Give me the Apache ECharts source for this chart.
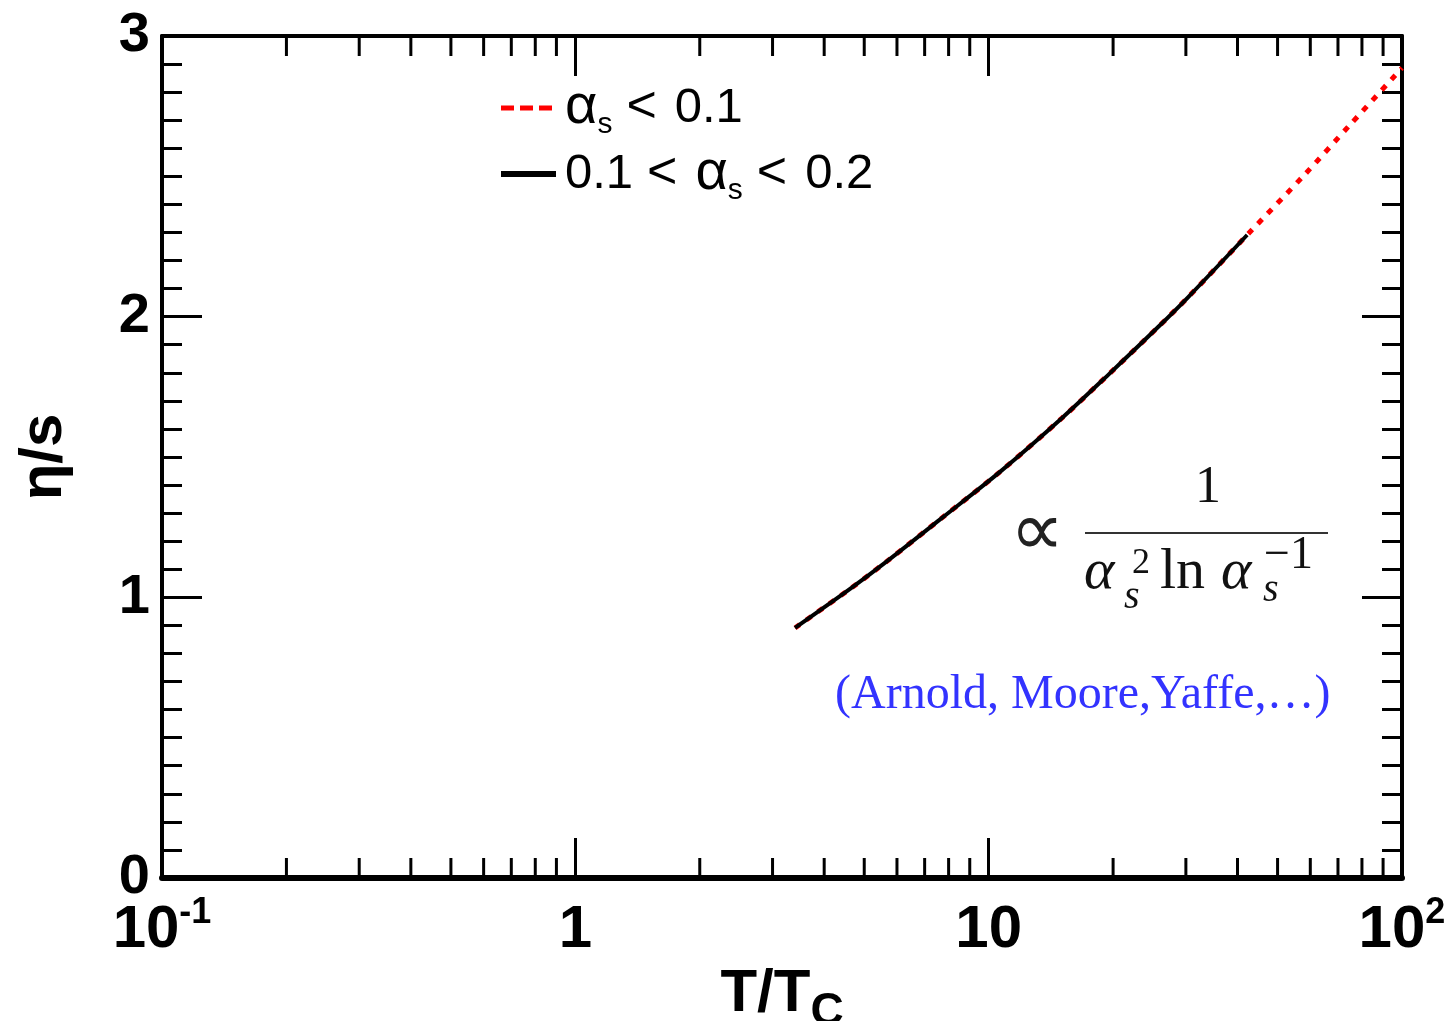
<!DOCTYPE html>
<html><head><meta charset="utf-8">
<script src="https://cdn.jsdelivr.net/npm/echarts@6/dist/echarts.min.js"></script>
<style>html,body{margin:0;padding:0;background:#fff}#c{width:1449px;height:1021px}</style>
</head><body><div id="c"></div>
<script>
// ---- data ----
const tOverTc   = [3.40, 4.62, 5.68, 7.71, 10.65, 15.05, 19.66, 25.7, 30.4, 42.2, 58.3, 74.8, 100];
const etaOverS  = [0.891, 1.030, 1.129, 1.283, 1.447, 1.639, 1.799, 1.963, 2.070, 2.291, 2.508, 2.683, 2.886];
const blackMaxT = 42.2;           // 0.1 < alpha_s < 0.2 segment ends here
const seriesNames = ['alpha_s < 0.1', '0.1 < alpha_s < 0.2'];
const xTickBase = ['10', '1', '10', '10'];
const xTickExp  = ['-1', '', '', '2'];
const xMinorTicks = [0.2,0.3,0.4,0.5,0.6,0.7,0.8,0.9, 2,3,4,5,6,7,8,9, 20,30,40,50,60,70,80,90];
const yTickLabels = ['0', '1', '2', '3'];

const redData = tOverTc.map((t, i) => [t, etaOverS[i]]);
const blackData = redData.filter(p => p[0] <= blackMaxT);

const SANS = "'Liberation Sans', Arial, Helvetica, sans-serif";
const SERIF = "'Liberation Serif', 'Times New Roman', serif";

const chart = echarts.init(document.getElementById('c'), null, {renderer: 'canvas'});

const commonX = {
  type: 'log', logBase: 10, min: 0.1, max: 100,
  splitLine: {show: false}, minorSplitLine: {show: false},
  axisTick: {show: true, inside: true, length: 40, lineStyle: {color: '#000', width: 3}},
};
const commonY = {
  type: 'value', min: 0, max: 3, interval: 1,
  splitLine: {show: false}, minorSplitLine: {show: false},
  axisTick: {show: true, inside: true, length: 40, lineStyle: {color: '#000', width: 3}},
  minorTick: {show: true, splitNumber: 10, length: 20, lineStyle: {color: '#000', width: 3}},
};

const option = {
  backgroundColor: '#fff',
  animation: false,
  grid: {left: 162, right: 47, top: 36, bottom: 143, containLabel: false, outerBoundsMode: 'none'},
  xAxis: [
    Object.assign({}, commonX, {
      position: 'bottom',
      axisLine: {show: true, onZero: false, lineStyle: {color: '#000', width: 6}},
      axisLabel: {
        show: true, margin: 17, showMinLabel: true, showMaxLabel: true,
        formatter: v => {
          const k = Math.round(Math.log10(v)) + 1;
          const e = xTickExp[k];
          return '{a|' + xTickBase[k] + '}' + (e ? '{s|' + e + '}' : '');
        },
        rich: {
          a: {fontFamily: SANS, fontWeight: 'bold', fontSize: 60, lineHeight: 70, color: '#000'},
          s: {fontFamily: SANS, fontWeight: 'bold', fontSize: 36, lineHeight: 36, verticalAlign: 'top', color: '#000'}
        }
      },
      name: '{a|T/T}{c|C}',
      nameLocation: 'middle', nameGap: 50,
      nameTextStyle: {
        rich: {
          a: {fontFamily: SANS, fontWeight: 'bold', fontSize: 60, lineHeight: 80, color: '#000'},
          c: {fontFamily: SANS, fontWeight: 'bold', fontSize: 46, lineHeight: 38, verticalAlign: 'bottom', color: '#000'}
        }
      }
    }),
    Object.assign({}, commonX, {
      position: 'top',
      axisLine: {show: true, onZero: false, lineStyle: {color: '#000', width: 4}},
      axisLabel: {show: false}
    })
  ],
  yAxis: [
    Object.assign({}, commonY, {
      position: 'left',
      axisLine: {show: true, onZero: false, lineStyle: {color: '#000', width: 4}},
      axisLabel: {
        show: true, margin: 12, color: '#000', fontFamily: SANS, fontWeight: 'bold', fontSize: 56,
        formatter: v => yTickLabels[Math.round(v)]
      },
      name: 'η/s', nameLocation: 'middle', nameGap: 88, nameRotate: 90,
      nameTextStyle: {fontFamily: SANS, fontWeight: 'bold', fontSize: 60, color: '#000'}
    }),
    Object.assign({}, commonY, {
      position: 'right',
      axisLine: {show: true, onZero: false, lineStyle: {color: '#000', width: 4}},
      axisLabel: {show: false}
    })
  ],
  legend: {
    show: true, orient: 'vertical', left: 498, top: 80, padding: 0,
    itemWidth: 55, itemHeight: 14, itemGap: 6,
    itemStyle: {opacity: 0},
    formatter: n => n === seriesNames[0]
      ? '{g|α}{s|s}{lt|<}{m|0.1}'
      : '{m0|0.1}{lt|<}{g2|α}{s|s}{lt|<}{m|0.2}',
    textStyle: {
      rich: {
        m:  {fontFamily: SANS, fontSize: 49, lineHeight: 64, color: '#000'},
        m0: {fontFamily: SANS, fontSize: 49, lineHeight: 64, color: '#000', padding: [0, 0, 0, 4]},
        g:  {fontFamily: SANS, fontSize: 56, lineHeight: 64, color: '#000', padding: [0, 0, 0, 4]},
        g2: {fontFamily: SANS, fontSize: 56, lineHeight: 64, color: '#000'},
        lt: {fontFamily: SANS, fontSize: 52, lineHeight: 64, color: '#000', padding: [0, 18, 0, 14]},
        s:  {fontFamily: SANS, fontSize: 30, lineHeight: 18, verticalAlign: 'bottom', color: '#000'}
      }
    },
    data: [
      {name: seriesNames[0], lineStyle: {color: '#ff0000', width: 5, type: [13, 6]}},
      {name: seriesNames[1], lineStyle: {color: '#000', width: 6, type: 'solid'}}
    ]
  },
  graphic: [
    {type: 'text', x: 1037, y: 535, style: {text: '∝', fontFamily: SERIF, fontSize: 76, fill: '#222', align: 'center', verticalAlign: 'middle'}},
    {type: 'text', x: 1208, y: 488, style: {text: '1', fontFamily: SERIF, fontSize: 52, fill: '#111', align: 'center', verticalAlign: 'middle'}},
    {type: 'line', shape: {x1: 1085, y1: 533, x2: 1328, y2: 533}, style: {stroke: '#333', lineWidth: 2}},
    {type: 'text', x: 1084, y: 573, style: {text: 'α', fontFamily: SERIF, fontStyle: 'italic', fontSize: 58, fill: '#111', align: 'left', verticalAlign: 'middle'}},
    {type: 'text', x: 1132, y: 564, style: {text: '2', fontFamily: SERIF, fontSize: 36, fill: '#111', align: 'left', verticalAlign: 'middle'}},
    {type: 'text', x: 1124, y: 597, style: {text: 's', fontFamily: SERIF, fontStyle: 'italic', fontSize: 40, fill: '#111', align: 'left', verticalAlign: 'middle'}},
    {type: 'text', x: 1160, y: 573, style: {text: 'ln', fontFamily: SERIF, fontSize: 58, fill: '#111', align: 'left', verticalAlign: 'middle'}},
    {type: 'text', x: 1221, y: 573, style: {text: 'α', fontFamily: SERIF, fontStyle: 'italic', fontSize: 58, fill: '#111', align: 'left', verticalAlign: 'middle'}},
    {type: 'text', x: 1263, y: 590, style: {text: 's', fontFamily: SERIF, fontStyle: 'italic', fontSize: 40, fill: '#111', align: 'left', verticalAlign: 'middle'}},
    {type: 'text', x: 1264, y: 556, style: {text: '−1', fontFamily: SERIF, fontSize: 46, fill: '#111', align: 'left', verticalAlign: 'middle'}},
    {type: 'text', x: 835, y: 695, style: {text: '(Arnold, Moore,Yaffe,…)', fontFamily: SERIF, fontSize: 48, fill: '#3333ff', align: 'left', verticalAlign: 'middle'}}
  ],
  series: [
    {
      name: seriesNames[0], type: 'line', xAxisIndex: 0, yAxisIndex: 0,
      data: redData, smooth: 0.3, symbol: 'none', z: 3,
      lineStyle: {color: '#ff0000', width: 5, type: [6, 8]}, itemStyle: {color: '#ff0000'}
    },
    {
      name: seriesNames[1], type: 'line', xAxisIndex: 0, yAxisIndex: 0,
      data: blackData, smooth: 0.3, symbol: 'none', z: 4,
      lineStyle: {color: '#000', width: 4, type: 'solid'}, itemStyle: {color: '#000'}
    },
    {
      name: 'xMinorTicks', type: 'custom', xAxisIndex: 0, yAxisIndex: 0, silent: true, clip: false, z: 5,
      data: xMinorTicks.map(t => [t, 0]),
      encode: {x: 0, y: 1},
      renderItem: (params, api) => {
        const t = api.value(0);
        const b = api.coord([t, 0]);
        const tp = api.coord([t, 3]);
        return {type: 'group', children: [
          {type: 'line', shape: {x1: b[0], y1: b[1], x2: b[0], y2: b[1] - 20}, style: {stroke: '#000', lineWidth: 3}},
          {type: 'line', shape: {x1: tp[0], y1: tp[1], x2: tp[0], y2: tp[1] + 20}, style: {stroke: '#000', lineWidth: 3}}
        ]};
      }
    }
  ]
};
chart.setOption(option);
</script>
</body></html>
